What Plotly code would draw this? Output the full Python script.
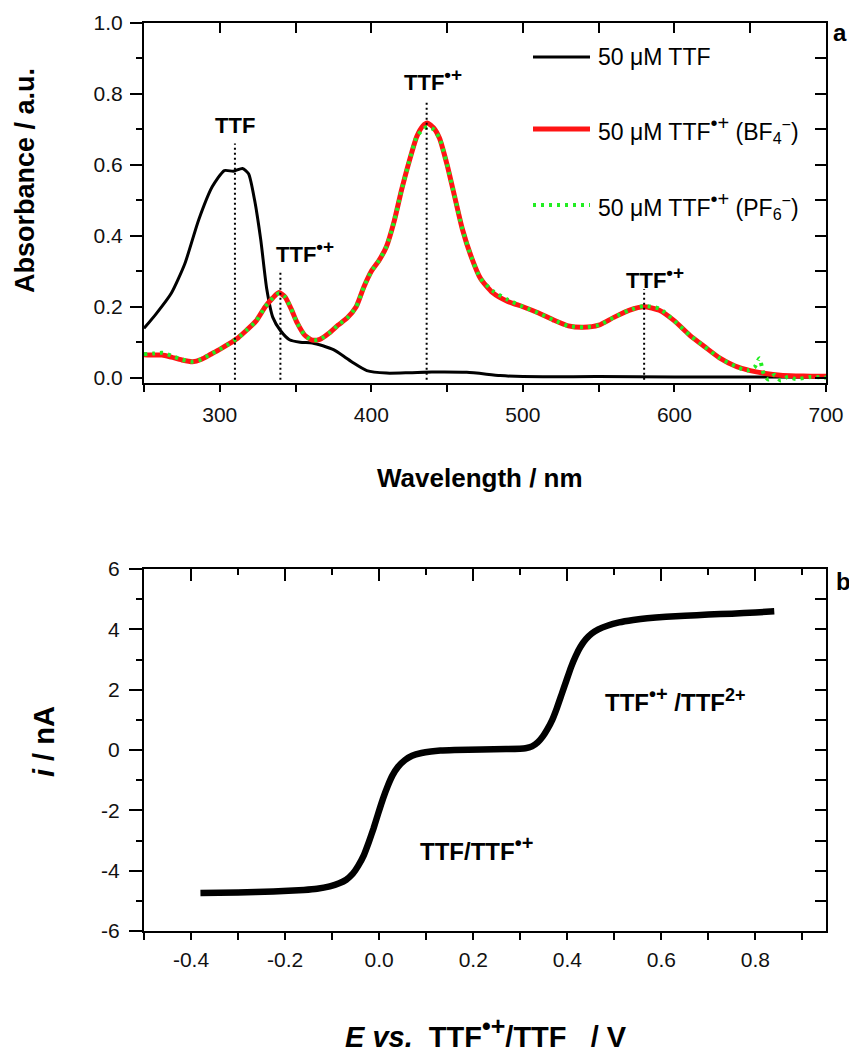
import plotly.graph_objects as go

# ---------------- data: panel a (UV-vis) ----------------
wl_ttf = [250, 258, 268, 277, 286, 295, 303, 309, 315, 319, 323, 327, 331, 335, 340, 346, 353, 361,
          368, 375, 382, 388, 397, 410, 425, 440, 463, 485, 500, 550, 600, 650, 700]
abs_ttf = [0.139, 0.18, 0.238, 0.322, 0.444, 0.538, 0.584, 0.582, 0.59, 0.575, 0.50, 0.39, 0.25, 0.17,
           0.133, 0.107, 0.100, 0.098, 0.09, 0.079, 0.06, 0.042, 0.02, 0.013, 0.014, 0.016, 0.015, 0.006,
           0.003, 0.003, 0.002, 0.002, 0.001]

wl_bf4 = [250, 256, 262, 268, 275, 282, 288, 294, 300, 306, 312, 318, 324, 330, 335, 339, 343, 347, 351,
          356, 361, 366, 372, 378, 384, 390, 395, 400, 405, 410, 415, 420, 425, 430, 434, 437, 441, 445,
          450, 455, 460, 466, 472, 480, 490, 500, 510, 520, 530, 540, 550, 560, 570, 580, 590, 600, 610,
          620, 630, 640, 650, 660, 670, 680, 690, 700]
abs_bf4 = [0.065, 0.064, 0.064, 0.058, 0.05, 0.045, 0.052, 0.066, 0.08, 0.095, 0.112, 0.135, 0.16, 0.2,
           0.225, 0.24, 0.228, 0.195, 0.155, 0.12, 0.106, 0.108, 0.125, 0.148, 0.168, 0.2, 0.255, 0.3,
           0.33, 0.37, 0.44, 0.53, 0.61, 0.68, 0.71, 0.718, 0.705, 0.675, 0.6, 0.51, 0.42, 0.34, 0.28,
           0.24, 0.215, 0.2, 0.183, 0.163, 0.146, 0.142, 0.148, 0.17, 0.19, 0.2, 0.19, 0.16, 0.12, 0.087,
           0.055, 0.033, 0.02, 0.012, 0.007, 0.005, 0.004, 0.004]

wl_pf6 = [250, 256, 262, 268, 275, 282, 288, 294, 300, 306, 312, 318, 324, 330, 335, 339, 343, 347, 351,
          356, 361, 366, 372, 378, 384, 390, 395, 400, 405, 410, 415, 420, 425, 430, 434, 437, 441, 445,
          450, 455, 460, 466, 472, 480, 490, 500, 510, 520, 530, 540, 550, 560, 570, 580, 590, 600, 610,
          620, 630, 640, 648, 653, 656, 659, 662, 666, 670, 675, 680, 690, 700]
abs_pf6 = [0.066, 0.068, 0.07, 0.062, 0.051, 0.045, 0.052, 0.066, 0.08, 0.095, 0.112, 0.135, 0.16, 0.2,
           0.225, 0.238, 0.228, 0.195, 0.155, 0.12, 0.106, 0.108, 0.125, 0.148, 0.168, 0.2, 0.255, 0.3,
           0.33, 0.37, 0.44, 0.53, 0.61, 0.68, 0.70, 0.708, 0.70, 0.675, 0.6, 0.51, 0.42, 0.34, 0.28,
           0.245, 0.22, 0.2, 0.183, 0.163, 0.146, 0.142, 0.148, 0.17, 0.19, 0.202, 0.195, 0.16, 0.12,
           0.087, 0.055, 0.033, 0.02, 0.03, 0.055, 0.01, -0.005, 0.008, -0.008, 0.003, -0.004, 0.002, 0.0]

peak_wl = [310, 340, 436.5, 580]
peak_top = [0.66, 0.30, 0.78, 0.25]
peak_labels = ["TTF", "TTF•+", "TTF•+", "TTF•+"]
peak_label_x = [310, 356, 441, 587]
peak_label_y = [0.71, 0.355, 0.84, 0.282]

legend_names = ["50 μM TTF",
                "50 μM TTF•+ (BF4−)",
                "50 μM TTF•+ (PF6−)"]

xa_ticks = [300, 400, 500, 600, 700]
xa_labels = ["300", "400", "500", "600", "700"]
ya_ticks = [0.0, 0.2, 0.4, 0.6, 0.8, 1.0]
ya_labels = ["0.0", "0.2", "0.4", "0.6", "0.8", "1.0"]

# ---------------- data: panel b (voltammogram) ----------------
E_V = [-0.38, -0.30, -0.225, -0.16, -0.132, -0.105, -0.085, -0.07, -0.056, -0.045, -0.033, -0.022,
       -0.012, -0.002, 0.008, 0.018, 0.028, 0.04, 0.055, 0.07, 0.09, 0.11, 0.13, 0.16,
       0.218, 0.27, 0.311, 0.325, 0.337, 0.348, 0.358, 0.368, 0.378, 0.388, 0.398, 0.408, 0.418, 0.428,
       0.44, 0.452, 0.466, 0.485, 0.51, 0.54, 0.57, 0.61, 0.65, 0.7, 0.75, 0.8, 0.84]
I_nA = [-4.74, -4.72, -4.69, -4.64, -4.60, -4.52, -4.42, -4.3, -4.1, -3.85, -3.5, -3.05,
        -2.6, -2.1, -1.62, -1.2, -0.85, -0.56, -0.33, -0.19, -0.1, -0.05, -0.02, 0.0,
        0.02, 0.03, 0.06, 0.12, 0.25, 0.45, 0.7, 1.0, 1.4, 1.85, 2.3, 2.75, 3.12, 3.42,
        3.68, 3.86, 4.0, 4.12, 4.23, 4.31, 4.37, 4.42, 4.45, 4.49, 4.52, 4.56, 4.6]

xb_ticks = [-0.4, -0.2, 0.0, 0.2, 0.4, 0.6, 0.8]
xb_labels = ["-0.4", "-0.2", "0.0", "0.2", "0.4", "0.6", "0.8"]
yb_ticks = [-6, -4, -2, 0, 2, 4, 6]
yb_labels = ["-6", "-4", "-2", "0", "2", "4", "6"]

couple_labels = ["TTF/TTF•+", "TTF•+ /TTF2+"]
couple_x = [0.206, 0.631]
couple_y = [-3.25, 1.66]

# ---------------- helpers ----------------
def rich(t, size):
    """Turn plain chemistry text into plotly rich text with larger Origin-like superscripts."""
    sup = '<sup><span style="font-size:%dpx">%s</span></sup>'
    t = t.replace("•+", sup % (round(size * 0.85), "•+"))
    t = t.replace("TTF2+", "TTF" + sup % (round(size * 0.75), "2+"))
    t = t.replace("BF4−", "BF<sub>4</sub><sup>−</sup>")
    t = t.replace("PF6−", "PF<sub>6</sub><sup>−</sup>")
    return t

# ---------------- layout geometry (page body has an 8px margin) ----------------
OFF = 8
W, H = 857 - OFF, 1055 - OFF
FONT = "Liberation Sans, Arial, sans-serif"
def P(x):
    return (x - OFF) / W
def Q(y):
    return 1 - (y - OFF) / H

x_dom = [P(144), P(826)]
ya_dom = [Q(383), Q(23)]
yb_dom = [Q(931), Q(569)]

fig = go.Figure()

fig.add_trace(go.Scatter(x=wl_ttf, y=abs_ttf, mode="lines", line=dict(color="black", width=3, shape="spline", smoothing=0.6),
                         xaxis="x", yaxis="y", showlegend=False))
fig.add_trace(go.Scatter(x=wl_bf4, y=abs_bf4, mode="lines", line=dict(color="#ff1414", width=5, shape="spline", smoothing=0.6),
                         xaxis="x", yaxis="y", showlegend=False))
fig.add_trace(go.Scatter(x=wl_pf6, y=abs_pf6, mode="lines", line=dict(color="#22ee22", width=4, dash="3px,5px", shape="spline", smoothing=0.6),
                         xaxis="x", yaxis="y", showlegend=False))
vx, vy = [], []
for w, t in zip(peak_wl, peak_top):
    vx += [w, w, None]
    vy += [-0.006, t, None]
fig.add_trace(go.Scatter(x=vx, y=vy, mode="lines", line=dict(color="black", width=2, dash="2px,3px"),
                         xaxis="x", yaxis="y", showlegend=False))

fig.add_trace(go.Scatter(x=E_V, y=I_nA, mode="lines", line=dict(color="black", width=6.5, shape="spline", smoothing=0.5),
                         xaxis="x2", yaxis="y2", showlegend=False))

for xa, ya in [("x3", "y3"), ("x4", "y4")]:
    fig.add_trace(go.Scatter(x=[], y=[], xaxis=xa, yaxis=ya, showlegend=False))

axis_common = dict(showline=True, linewidth=2, linecolor="black", showgrid=False, zeroline=False,
                   tickcolor="black", tickwidth=2, tickfont=dict(family=FONT, size=21, color="#111"))

layout = dict(
    width=W, height=H, margin=dict(l=0, r=0, t=0, b=0, autoexpand=False),
    paper_bgcolor="white", plot_bgcolor="white", showlegend=False,
    xaxis=dict(axis_common, domain=x_dom, anchor="y", range=[250, 700], tickmode="array",
               tickvals=xa_ticks, ticktext=xa_labels, ticks="outside", ticklen=7, ticklabelstandoff=5,
               minor=dict(tickmode="linear", tick0=250, dtick=50, ticks="outside", ticklen=7, tickwidth=2, tickcolor="black")),
    yaxis=dict(axis_common, domain=ya_dom, anchor="x", range=[-0.015, 1.0], tickmode="array",
               tickvals=ya_ticks, ticktext=ya_labels, ticks="outside", ticklen=12, ticklabelstandoff=3,
               minor=dict(tickmode="linear", tick0=0, dtick=0.1, ticks="outside", ticklen=6, tickwidth=2, tickcolor="black")),
    xaxis3=dict(axis_common, overlaying="x", side="top", anchor="y", range=[250, 700], tickmode="linear",
                tick0=250, dtick=50, ticks="inside", ticklen=10, showticklabels=False),
    yaxis3=dict(axis_common, overlaying="y", side="right", anchor="x", range=[-0.015, 1.0], tickmode="linear",
                tick0=0, dtick=0.1, ticks="inside", ticklen=11, showticklabels=False),
    xaxis2=dict(axis_common, domain=x_dom, anchor="y2", range=[-0.5, 0.95], tickmode="array",
                tickvals=xb_ticks, ticktext=xb_labels, ticks="outside", ticklen=7, ticklabelstandoff=2,
                minor=dict(tickmode="linear", tick0=0, dtick=0.1, ticks="outside", ticklen=7, tickwidth=2, tickcolor="black")),
    yaxis2=dict(axis_common, domain=yb_dom, anchor="x2", range=[-6, 6], tickmode="array",
                tickvals=yb_ticks, ticktext=yb_labels, ticks="outside", ticklen=13, ticklabelstandoff=5,
                minor=dict(tickmode="linear", tick0=0, dtick=1, ticks="outside", ticklen=6, tickwidth=2, tickcolor="black")),
    xaxis4=dict(axis_common, overlaying="x2", side="top", anchor="y2", range=[-0.5, 0.95], tickmode="linear",
                tick0=0, dtick=0.2, ticks="inside", ticklen=12, showticklabels=False,
                minor=dict(tickmode="linear", tick0=0, dtick=0.1, ticks="inside", ticklen=6, tickwidth=2, tickcolor="black")),
    yaxis4=dict(axis_common, overlaying="y2", side="right", anchor="x2", range=[-6, 6], tickmode="linear",
                tick0=0, dtick=1, ticks="inside", ticklen=11, showticklabels=False),
)
fig.update_layout(**layout)

ann = []
def px_ann(text, x, y, size, bold=True, xanchor="center", yanchor="middle", angle=0):
    ann.append(dict(text=("<b>%s</b>" % text) if bold else text, x=P(x), y=Q(y), xref="paper", yref="paper",
                    showarrow=False, xanchor=xanchor, yanchor=yanchor, textangle=angle,
                    font=dict(family=FONT, size=size, color="black")))

for t, x, y in zip(peak_labels, peak_label_x, peak_label_y):
    ann.append(dict(text="<b>%s</b>" % rich(t, 22), x=x, y=y, xref="x", yref="y", showarrow=False,
                    xanchor="center", yanchor="middle", font=dict(family=FONT, size=22, color="black")))
for t, x, y in zip(couple_labels, couple_x, couple_y):
    ann.append(dict(text="<b>%s</b>" % rich(t, 24), x=x, y=y, xref="x2", yref="y2", showarrow=False,
                    xanchor="center", yanchor="middle", font=dict(family=FONT, size=24, color="black")))

px_ann("Absorbance / a.u.", 25, 181, 27, angle=-90)
px_ann("Wavelength / nm", 480, 478, 26)
px_ann("<i>i</i> / nA", 44, 742, 29, angle=-90)
px_ann("<i>E\u00a0vs.</i>\u00a0\u00a0" + rich("TTF•+", 29) + "/TTF\u00a0\u00a0\u00a0/ V", 486, 1055, 29, yanchor="bottom")
px_ann("a", 840, 33, 24)
px_ann("b", 843, 581, 24)

leg_rows = [57, 129, 205]
leg_styles = [dict(color="black", width=3), dict(color="#ff1414", width=5), dict(color="#22ee22", width=4, dash="3px,5px")]
shapes = []
for name, yr, st in zip(legend_names, leg_rows, leg_styles):
    shapes.append(dict(type="line", xref="paper", yref="paper", x0=P(533), x1=P(590), y0=Q(yr), y1=Q(yr), line=st))
    px_ann(rich(name, 23), 596, yr, 23, bold=False, xanchor="left")

fig.update_layout(annotations=ann, shapes=shapes)
fig.write_html("out.html")
